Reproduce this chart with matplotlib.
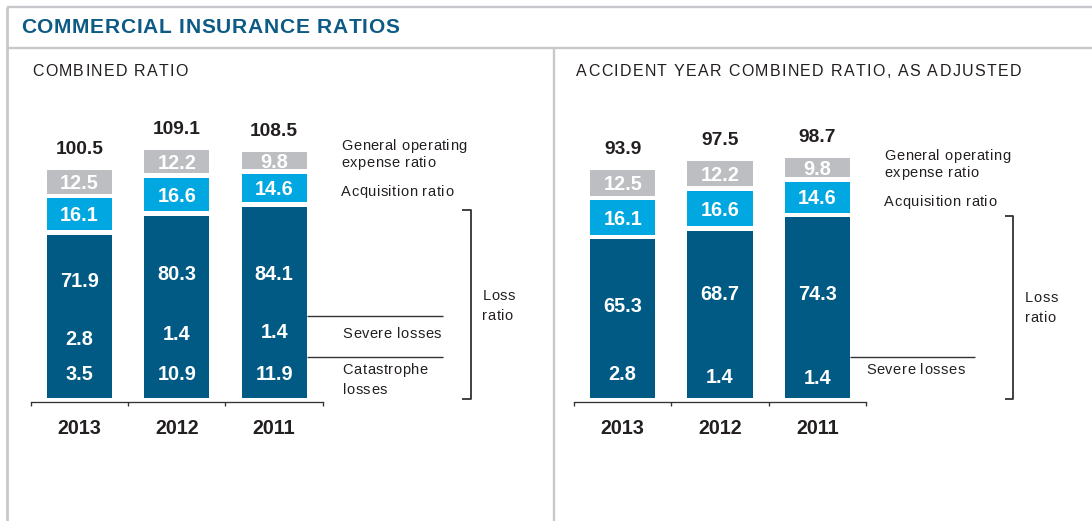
import matplotlib
matplotlib.use('Agg')
import matplotlib.pyplot as plt
from matplotlib.lines import Line2D
from matplotlib.font_manager import FontProperties, findfont
from matplotlib.ft2font import FT2Font

# ---------------- data ----------------
years = ['2013', '2012', '2011']

# Combined ratio
cr_loss = [71.9, 80.3, 84.1]
cr_acq = [16.1, 16.6, 14.6]
cr_gen = [12.5, 12.2, 9.8]
cr_total = [100.5, 109.1, 108.5]
cr_severe = [2.8, 1.4, 1.4]
cr_cat = [3.5, 10.9, 11.9]

# Accident year combined ratio, as adjusted
ay_loss = [65.3, 68.7, 74.3]
ay_acq = [16.1, 16.6, 14.6]
ay_gen = [12.5, 12.2, 9.8]
ay_total = [93.9, 97.5, 98.7]
ay_severe = [2.8, 1.4, 1.4]

# ---------------- style ----------------
W, H, DPI = 1092, 521, 100
FONT = 'Liberation Sans'
DARK = '#005A83'
LIGHT = '#00A7E1'
GREY = '#BCBEC1'
TITLE_C = '#0D5B85'
TXT = '#231F20'
FRAME = '#C8C8CC'
LINE_C = '#333333'

fig = plt.figure(figsize=(W / DPI, H / DPI), dpi=DPI)
fig.patch.set_facecolor('white')


def fx(x):
    return x / W


def fy(y):
    return 1 - y / H


def fline(xs, ys, color=LINE_C, lw=1.0):
    fig.add_artist(Line2D([fx(v) for v in xs], [fy(v) for v in ys],
                          transform=fig.transFigure, color=color, lw=lw,
                          solid_capstyle='butt'))


def tracked(x, y, s, size, weight='normal', color=TXT, track=0.0):
    prop = FontProperties(family=FONT, weight=weight, size=size)
    font = FT2Font(findfont(prop))
    font.set_size(size, DPI)
    pos = x
    for ch in s:
        if ch != ' ':
            fig.text(fx(pos), fy(y), ch, fontproperties=prop, color=color,
                     ha='left', va='baseline')
        g = font.load_char(ord(ch))
        pos += g.linearHoriAdvance / 65536 + track


# ---------------- frame ----------------
fline([6.7, W], [6.7, 6.7], FRAME, 1.7)
fline([6.7, W], [48, 48], FRAME, 1.7)
fline([6.7, 6.7], [6.7, H], FRAME, 2.0)
fline([554, 554], [48, H], FRAME, 1.7)

tracked(20.7, 33.3, 'COMMERCIAL INSURANCE RATIOS', 15.1, 'bold', TITLE_C, 0.7)
tracked(32.3, 76, 'COMBINED RATIO', 11.5, 'normal', TXT, 1.2)
tracked(576, 76, 'ACCIDENT YEAR COMBINED RATIO, AS ADJUSTED', 11.5, 'normal', TXT, 1.3)

BASE = 398.3      # pixel row of value 0
PLOT_H = 300.0
BAR_W = 0.67
SIDE = 10.5       # side label font size
TRK = 0.55


def label(ax, x, y, s, size, color='white'):
    ax.annotate(s, xy=(x, y), xytext=(0, -0.358 * size), textcoords='offset points',
                ha='center', va='baseline', fontsize=size, fontweight='bold',
                color=color, family=FONT, annotation_clip=False)


def panel(x0, x1, scale, loss, acq, gen, total, loss_y, sub_values, sub_y):
    ax = fig.add_axes([fx(x0), fy(BASE), (x1 - x0) / W, PLOT_H / H])
    ax.set_xlim(-0.5, 2.5)
    ax.set_ylim(0, PLOT_H / scale)
    ax.patch.set_alpha(0)
    for s in ['top', 'left', 'right']:
        ax.spines[s].set_visible(False)
    ax.spines['bottom'].set_position(('outward', 2.9))
    ax.spines['bottom'].set_color(LINE_C)
    ax.spines['bottom'].set_linewidth(0.95)
    ax.set_yticks([])
    ax.set_xticks([-0.5, 0.5, 1.5, 2.5])
    ax.set_xticklabels([])
    ax.tick_params(axis='x', direction='out', length=3.2, width=0.95, color=LINE_C)

    xs = list(range(len(years)))
    gap = 4.6 / scale
    acq_bottom = [l + gap for l in loss]
    gen_bottom = [l + a + gap for l, a in zip(loss, acq)]
    ax.bar(xs, loss, BAR_W, color=DARK, linewidth=0)
    ax.bar(xs, [a - gap for a in acq], BAR_W, bottom=acq_bottom, color=LIGHT, linewidth=0)
    ax.bar(xs, [g - gap for g in gen], BAR_W, bottom=gen_bottom, color=GREY, linewidth=0)

    for i in xs:
        label(ax, i, acq_bottom[i] + (acq[i] - gap) / 2, f'{acq[i]:.1f}', 14.3)
        label(ax, i, gen_bottom[i] + (gen[i] - gap) / 2, f'{gen[i]:.1f}', 14.3)
        label(ax, i, loss_y[i], f'{loss[i]:.1f}', 14.3)
        for vals, ys in zip(sub_values, sub_y):
            label(ax, i, ys[i], f'{vals[i]:.1f}', 14.3)
        ax.annotate(f'{total[i]:.1f}', xy=(i, total[i]), xytext=(0, 11.4),
                    textcoords='offset points', ha='center', va='baseline',
                    fontsize=13.8, fontweight='bold', color=TXT, family=FONT)
        ax.annotate(years[i], xy=(i, 0), xytext=(0, -25.4),
                    textcoords='offset points', ha='center', va='baseline',
                    fontsize=14.2, fontweight='bold', color=TXT, family=FONT,
                    annotation_clip=False)
    return ax


# left panel: combined ratio
panel(31, 322.7, 2.274, cr_loss, cr_acq, cr_gen, cr_total,
      [52.0, 55.0, 55.0], [cr_severe, cr_cat], [[26.6, 28.6, 29.7], [11.0, 11.0, 11.0]])

tracked(341, 150.3, 'General operating', SIDE, track=TRK)
tracked(341, 166.7, 'expense ratio', SIDE, track=TRK)
tracked(341, 195.5, 'Acquisition ratio', SIDE, track=TRK)
fline([306.7, 442.7], [315.7, 315.7], LINE_C, 1.0)
fline([306.7, 442.7], [356.7, 356.7], LINE_C, 1.0)
tracked(342.7, 338.3, 'Severe losses', SIDE, track=TRK)
tracked(342.7, 374.3, 'Catastrophe', SIDE, track=TRK)
tracked(342.7, 393.5, 'losses', SIDE, track=TRK)
fline([461.7, 470.7, 470.7, 461.7], [210, 210, 399.3, 399.3], LINE_C, 1.3)
tracked(482.3, 300, 'Loss', SIDE, track=TRK)
tracked(482.3, 320.5, 'ratio', SIDE, track=TRK)

# right panel: accident year combined ratio, as adjusted
panel(574, 866, 2.434, ay_loss, ay_acq, ay_gen, ay_total,
      [38.3, 43.4, 43.4], [ay_severe], [[10.5, 9.2, 8.9]])

tracked(884.3, 160, 'General operating', SIDE, track=TRK)
tracked(884.3, 177.3, 'expense ratio', SIDE, track=TRK)
tracked(884.3, 205.7, 'Acquisition ratio', SIDE, track=TRK)
fline([850, 975], [356.7, 356.7], LINE_C, 1.0)
tracked(866, 374, 'Severe losses', SIDE, track=TRK)
fline([1004.5, 1013, 1013, 1004.5], [215.7, 215.7, 399.3, 399.3], LINE_C, 1.3)
tracked(1025, 302.3, 'Loss', SIDE, track=TRK)
tracked(1025, 322.3, 'ratio', SIDE, track=TRK)

fig.savefig('out.png', dpi=DPI, facecolor='white')
